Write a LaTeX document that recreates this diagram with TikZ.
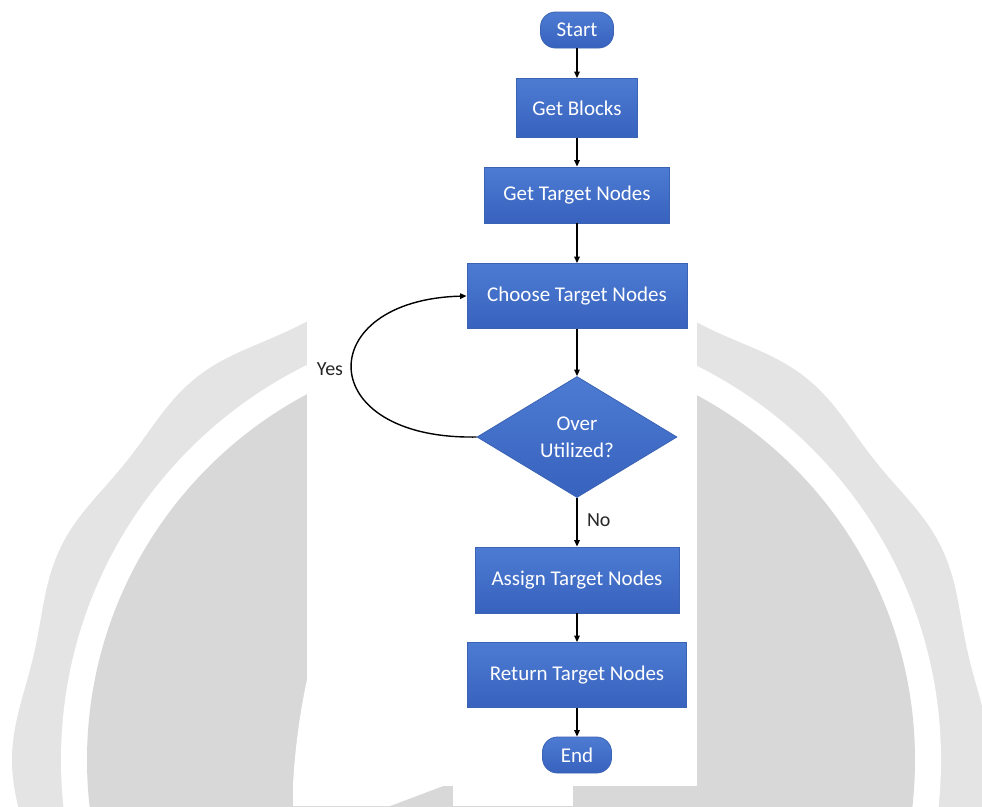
\documentclass[tikz,border=0pt]{standalone}
\usepackage{fontspec}
\setmainfont{Carlito}
\usetikzlibrary{shapes.geometric,arrows.meta}
\definecolor{sealout}{HTML}{E4E4E4}
\definecolor{sealin}{HTML}{D8D8D8}
\definecolor{boxtop}{HTML}{4D7BD2}
\definecolor{boxbot}{HTML}{3762BE}
\definecolor{boxline}{HTML}{3A63B4}
\tikzset{
  base/.style={draw=boxline, line width=0.8pt, top color=boxtop, bottom color=boxbot,
     text=white, font=\fontsize{21}{27}\selectfont, inner sep=0pt, align=center},
  procbox/.style={base, rectangle},
  termbox/.style={base, rectangle, rounded corners=15pt},
  decbox/.style={base, diamond, aspect=1.65},
  arr/.style={draw=black, line width=1.4pt, -{Triangle[length=6.5pt,width=5.5pt]}},
  lbl/.style={font=\fontsize{20}{24}\selectfont, text=black!85}
}
\begin{document}
\begin{tikzpicture}[x={(1pt,0)}, y={(0,-1pt)}]
\useasboundingbox (0,0) rectangle (982,806);
% watermark
\begin{scope}
\clip (0,0) rectangle (982,806);
\fill[sealout] plot[domain=0:360, samples=721, smooth]
  ({501+(484+5*cos(14*\x))*cos(\x)}, {760+(484+5*cos(14*\x))*sin(\x)}) -- cycle;
\fill[white] (501,760) circle (440pt);
\fill[sealin] (501,760) circle (414pt);
\fill[white] (307,680) .. controls (299,715) and (294,760) .. (293,786) -- (293,806) -- (390,806) -- (443,786) -- cycle;
\fill[white] (453,786) rectangle (573,806);
\end{scope}
\fill[white] (307,0) rectangle (697,786);
% nodes
\node[termbox, minimum width=73pt, minimum height=36pt] (start) at (577,30) {Start};
\node[procbox, minimum width=121pt, minimum height=59pt] (blocks) at (577,108) {Get Blocks};
\node[procbox, minimum width=185pt, minimum height=56pt] (getn) at (577,195) {Get Target Nodes};
\node[procbox, minimum width=220pt, minimum height=65pt] (choose) at (577,296) {Choose Target Nodes};
\node[decbox, minimum width=200pt, minimum height=121pt] (over) at (577,437) {Over\\Utilized?};
\node[procbox, minimum width=204pt, minimum height=66pt] (assign) at (577,580) {Assign Target Nodes};
\node[procbox, minimum width=219pt, minimum height=65pt] (ret) at (577,675) {Return Target Nodes};
\node[termbox, minimum width=69pt, minimum height=36pt] (end) at (577,755) {End};
% connectors
\draw[arr] (start) -- (blocks);
\draw[arr] (blocks) -- (getn);
\draw[arr] (getn) -- (choose);
\draw[arr] (choose) -- (over);
\draw[arr] (over) -- node[lbl, anchor=west, xshift=6pt, pos=0.45] (no) {No} (assign);
\draw[arr] (assign) -- (ret);
\draw[arr] (ret) -- (end);
\draw[arr] (over.west) .. controls (312,440) and (312,300) .. (choose.west);
\node[lbl] (yes) at (330,369) {Yes};
\end{tikzpicture}
\end{document}
